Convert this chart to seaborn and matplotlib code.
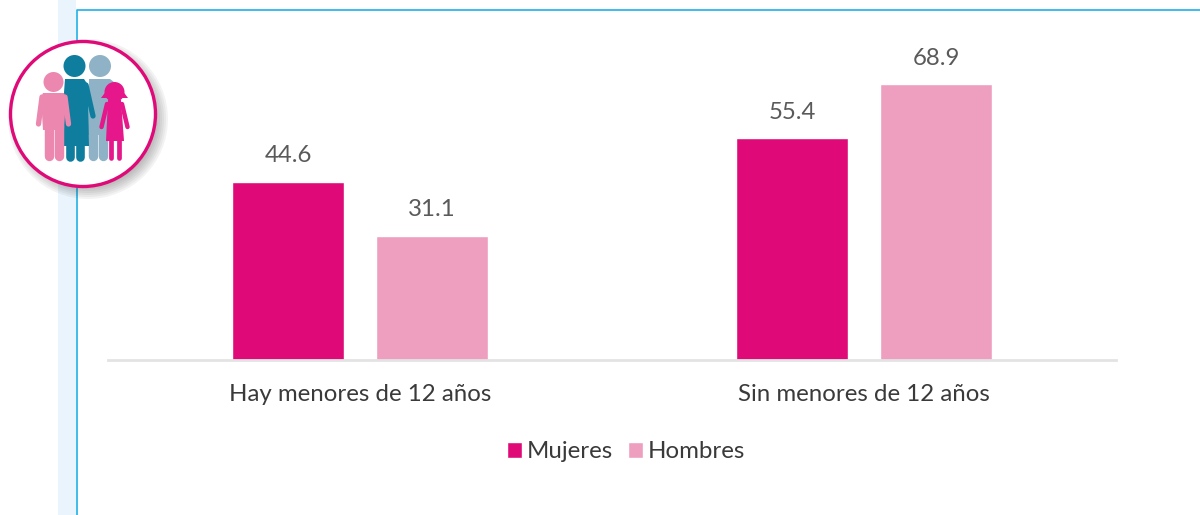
import pandas as pd
import matplotlib.pyplot as plt
import seaborn as sns
from matplotlib.patches import Circle, Polygon, Rectangle

# --- datos ---
categorias = ['Hay menores de 12 años', 'Sin menores de 12 años']
mujeres = [44.6, 55.4]
hombres = [31.1, 68.9]

COLOR_MUJERES = '#DF0A78'
COLOR_HOMBRES = '#EE9EBE'

df = pd.DataFrame({
    'categoria': categorias * 2,
    'sexo': ['Mujeres'] * 2 + ['Hombres'] * 2,
    'valor': mujeres + hombres,
})

sns.set_theme(style='white')
plt.rcParams['font.family'] = ['Lato', 'DejaVu Sans']

fig = plt.figure(figsize=(12, 5.15), dpi=100, facecolor='white')
ax = fig.add_axes([108 / 1200, 155 / 515, 1008 / 1200, 320 / 515])
ax.patch.set_alpha(0)

# --- barras ---
sns.barplot(data=df, x='categoria', y='valor', hue='sexo',
            palette={'Mujeres': COLOR_MUJERES, 'Hombres': COLOR_HOMBRES},
            width=0.5714, gap=0.222, saturation=1, ax=ax)
ax.set_xlim(-0.5, 1.5)
ax.set_ylim(0, 80)
ax.set_xlabel('')
ax.set_ylabel('')
ax.set_yticks([])

for container in ax.containers:
    ax.bar_label(container, fmt='%.1f', padding=11, fontsize=17.3, color='#5A5A5A')

sns.despine(ax=ax, left=True)
ax.spines['bottom'].set_color('#E3E3E3')
ax.spines['bottom'].set_linewidth(2)
ax.tick_params(axis='x', length=0, pad=17, labelsize=17.3, labelcolor='#3A3A3A')

ax.legend(loc='center', bbox_to_anchor=(626 / 1200, 63 / 515),
          bbox_transform=fig.transFigure, ncol=2, frameon=False, fontsize=17.3,
          labelcolor='#3A3A3A', handlelength=0.62, handleheight=0.62,
          handletextpad=0.2, columnspacing=0.6, borderpad=0)

# --- marco de la pagina e icono, en pixeles de la imagen ---
deco = fig.add_axes([0, 0, 1, 1], zorder=5)
deco.set_xlim(0, 1200)
deco.set_ylim(515, 0)
deco.axis('off')
deco.patch.set_alpha(0)

deco.add_patch(Rectangle((58, 0), 18, 515, color='#EAF4FC', lw=0, zorder=1))
deco.plot([76.5, 76.5, 1200], [515, 10, 10], color='#1FB0E6', lw=1.2, zorder=2)

# sombra del circulo
for r in range(80, 62, -2):
    deco.add_patch(Circle((88, 119), r, color='#303030', alpha=0.055, lw=0, zorder=3))
deco.add_patch(Circle((83, 114), 72.5, facecolor='white', edgecolor=COLOR_MUJERES,
                      lw=2.4, zorder=4))


def extremidad(xs, ys, ancho, color, z):
    deco.plot(xs, ys, color=color, lw=ancho, solid_capstyle='round', zorder=z)


# mujer del fondo
azul_claro = '#8FB2C6'
deco.add_patch(Circle((100, 66), 11, color=azul_claro, lw=0, zorder=5))
deco.add_patch(Polygon([(89, 79), (110, 79), (114, 82), (116, 100), (108, 135), (88, 135)],
                       color=azul_claro, lw=0, zorder=5))
extremidad([93, 93], [130, 156], 6.8, azul_claro, 5)
extremidad([103, 103], [130, 156], 6.8, azul_claro, 5)

# mujer azul
azul = '#0F7D9E'
deco.add_patch(Circle((74.5, 66), 11, color=azul, lw=0, zorder=6))
deco.add_patch(Polygon([(65, 79), (84, 79), (88, 85), (89, 146), (60, 146)],
                       color=azul, lw=0, zorder=6))
extremidad([86, 93], [85, 116], 3.8, azul, 6)
extremidad([70, 70], [144, 156.5], 6.2, azul, 6)
extremidad([80, 80], [144, 156.5], 6.2, azul, 6)

# nino rosa
rosa = '#EC88AF'
deco.add_patch(Circle((53.5, 82), 10, color=rosa, lw=0, zorder=7))
deco.add_patch(Polygon([(43, 93), (64, 93), (66, 98), (64, 130), (43, 130), (41, 98)],
                       color=rosa, lw=0, zorder=7))
extremidad([42, 38.5], [97, 124], 3.8, rosa, 7)
extremidad([65, 68.5], [97, 124], 3.8, rosa, 7)
extremidad([48.8, 48.8], [126, 156], 6.8, rosa, 7)
extremidad([58.8, 58.8], [126, 156], 6.8, rosa, 7)

# nina
fucsia = '#E5178A'
deco.add_patch(Circle((114.5, 92), 10, color=fucsia, lw=0, zorder=8))
deco.add_patch(Polygon([(101, 98), (128, 98), (122, 90), (107, 90)], color=fucsia, lw=0, zorder=8))
deco.add_patch(Polygon([(108, 100), (121, 100), (124, 141), (106, 141)],
                       color=fucsia, lw=0, zorder=8))
extremidad([107, 101.5], [104, 127], 3.2, fucsia, 8)
extremidad([122, 127.5], [104, 127], 3.2, fucsia, 8)
extremidad([110.7, 110.7], [138, 157.5], 3.4, fucsia, 8)
extremidad([119, 119], [138, 157.5], 3.4, fucsia, 8)

plt.savefig('out.png', dpi=100, facecolor='white')
